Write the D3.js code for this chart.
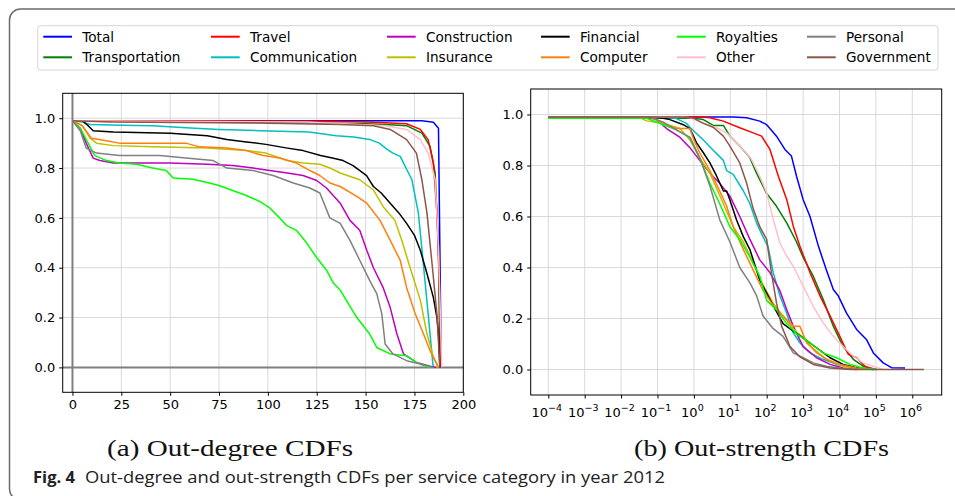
<!doctype html>
<html lang="en">

<head>
  <meta charset="utf-8">
  <title>Out-degree and out-strength CDFs</title>
  <style>
    * { margin: 0; padding: 0; box-sizing: border-box; }
    body { background: #fff; }
    #container { width: 955px; height: 496px; }
    text { font-family: "DejaVu Sans", sans-serif; }
  </style>
</head>

<body>
  <div id="container">
  </div>
  <script src="https://cdn.jsdelivr.net/npm/d3@7/dist/d3.min.js"></script>
  <script>
    // plotting order (matplotlib legend fills column by column, ncol=6)
    const categories = ['Total', 'Transportation', 'Travel', 'Communication', 'Construction', 'Insurance',
      'Financial', 'Computer', 'Royalties', 'Other', 'Personal', 'Government'];
    const colors = ['#0000ff', '#008000', '#ff0000', '#00bfbf', '#bf00bf', '#bfbf00',
      '#000000', '#ff7f0e', '#00ff00', '#ffc0cb', '#808080', '#8c564b'];

    // (a) out-degree, [degree, P]
    const outDegree = [
      [[0,0.99],[100,0.99],[178.8,0.99],[184.7,0.984],[187.3,0.96],[188.7,0]],
      [[0,0.99],[60,0.985],[120,0.982],[150,0.978],[160,0.975],[171,0.97],[178.8,0.94],[183,0.887],[185.6,0.78],[187.3,0.48],[188,0]],
      [[0,0.99],[130,0.988],[150,0.985],[160,0.982],[171,0.978],[178,0.955],[182,0.914],[184.7,0.82],[186.5,0.62],[187.7,0.35],[188.5,0]],
      [[0,0.99],[5,0.985],[9,0.975],[25,0.972],[41,0.97],[58,0.962],[75,0.955],[96,0.95],[121,0.945],[135,0.93],[144,0.925],[152,0.915],[157,0.9],[161,0.875],[164,0.86],[167.7,0.847],[173.7,0.753],[177,0.62],[179.5,0.42],[182,0.216],[184.6,0]],
      [[0,0.99],[4,0.96],[7,0.9],[10.6,0.84],[14,0.83],[21,0.82],[50,0.82],[69,0.815],[82,0.81],[92.5,0.8],[101,0.79],[110,0.78],[118,0.77],[125,0.75],[130,0.72],[137,0.659],[142,0.59],[147,0.55],[150.6,0.47],[154,0.4],[159,0.32],[162.6,0.24],[166,0.135],[169.4,0.054],[176,0.02],[183,0.005],[186,0]],
      [[0,0.99],[5,0.97],[9,0.92],[12.3,0.9],[21,0.89],[41,0.885],[69,0.88],[89,0.87],[99,0.86],[110,0.83],[118,0.82],[126.6,0.815],[131.7,0.8],[137,0.78],[147,0.753],[154,0.712],[159,0.645],[165,0.59],[168.5,0.51],[172.8,0.4],[178,0.27],[181.4,0.135],[184.7,0.04],[187.3,0]],
      [[0,0.99],[5,0.99],[8,0.97],[10.6,0.95],[21,0.945],[50,0.94],[69,0.93],[79,0.915],[89,0.905],[99,0.895],[110,0.88],[118,0.87],[127,0.85],[133,0.84],[138.5,0.83],[143.6,0.81],[150.5,0.77],[154,0.726],[158,0.7],[162.6,0.659],[167,0.62],[171,0.578],[175,0.53],[178,0.47],[181.4,0.377],[184.7,0.28],[186.5,0.2],[187.3,0.135],[188,0]],
      [[0,0.99],[5,0.97],[9.7,0.92],[17.4,0.91],[24,0.9],[58,0.9],[65,0.885],[79,0.88],[89,0.87],[97.6,0.85],[106,0.84],[114.6,0.82],[121.5,0.79],[126.6,0.77],[131.7,0.74],[137,0.726],[145.5,0.686],[150.6,0.659],[157.4,0.59],[162.6,0.51],[167.7,0.43],[171,0.32],[175.4,0.215],[179.6,0.135],[183,0.067],[187.3,0]],
      [[0,0.99],[4,0.96],[8,0.9],[11.4,0.85],[17.4,0.83],[24,0.82],[32.7,0.815],[41,0.8],[48,0.79],[51.5,0.76],[61.7,0.755],[70,0.74],[75,0.73],[82,0.71],[89,0.69],[96,0.665],[101,0.64],[106,0.6],[109.5,0.57],[114.6,0.55],[119.8,0.5],[125,0.44],[130,0.39],[133.4,0.34],[137,0.31],[145.5,0.2],[152,0.135],[155.7,0.08],[162.6,0.054],[171,0.047],[176,0.02],[179.6,0.007],[183,0]],
      [[0,0.99],[120,0.985],[160,0.97],[171,0.955],[178,0.914],[182,0.86],[185.6,0.753],[187.3,0.48],[189,0]],
      [[0,0.99],[4,0.95],[7,0.88],[12.3,0.86],[24,0.85],[44.7,0.85],[58,0.84],[72,0.83],[79,0.8],[92.5,0.79],[102.7,0.77],[113,0.74],[121.5,0.72],[126.6,0.7],[131.7,0.6],[137,0.578],[142,0.51],[147,0.43],[152,0.35],[155.7,0.296],[158.3,0.215],[160,0.094],[164,0.054],[171,0.027],[181.4,0.007],[185,0]],
      [[0,0.99],[20,0.985],[100,0.98],[137,0.975],[154,0.97],[162.6,0.955],[171,0.914],[176,0.86],[178.8,0.753],[181.4,0.62],[184,0.417],[186.5,0.215],[188,0]]
    ];

    // (b) out-strength, [log10(strength), P]
    const outStrength = [
      [[-4,0.99],[1.08,0.99],[1.45,0.987],[1.81,0.974],[2.0,0.96],[2.27,0.915],[2.5,0.863],[2.68,0.837],[2.82,0.758],[3.0,0.667],[3.19,0.6],[3.42,0.484],[3.64,0.39],[3.83,0.314],[3.97,0.288],[4.19,0.222],[4.47,0.157],[4.74,0.118],[4.93,0.065],[5.2,0.026],[5.43,0.007],[5.8,0.006]],
      [[-4,0.985],[0,0.985],[0.26,0.98],[0.53,0.957],[0.81,0.957],[0.99,0.915],[1.26,0.876],[1.54,0.83],[1.72,0.77],[2.0,0.69],[2.27,0.64],[2.55,0.575],[2.82,0.5],[3.0,0.44],[3.28,0.366],[3.55,0.275],[3.83,0.17],[4.1,0.09],[4.38,0.04],[4.65,0.013],[5.02,0]],
      [[-4,0.99],[0.2,0.99],[0.44,0.987],[0.81,0.974],[1.26,0.948],[1.63,0.928],[1.86,0.915],[2.09,0.863],[2.32,0.758],[2.55,0.667],[2.73,0.562],[2.91,0.484],[3.19,0.38],[3.46,0.29],[3.74,0.21],[4.01,0.13],[4.24,0.06],[4.47,0.046],[4.7,0.013],[4.93,0]],
      [[-4,0.99],[-1,0.99],[-0.5,0.985],[-0.2,0.965],[-0.11,0.95],[0.26,0.9],[0.53,0.86],[0.81,0.82],[0.9,0.78],[1.08,0.765],[1.36,0.7],[1.54,0.65],[1.72,0.575],[1.9,0.52],[2.04,0.48],[2.18,0.38],[2.36,0.29],[2.55,0.22],[2.73,0.144],[2.91,0.105],[3.19,0.065],[3.55,0.04],[3.92,0.02],[4.47,0.006],[5.02,0]],
      [[-4,0.99],[-1.3,0.99],[-1.03,0.98],[-0.75,0.945],[-0.38,0.91],[-0.11,0.87],[0.16,0.82],[0.44,0.77],[0.71,0.73],[0.99,0.68],[1.26,0.6],[1.54,0.51],[1.81,0.43],[2.09,0.38],[2.36,0.31],[2.55,0.235],[2.73,0.17],[3.0,0.09],[3.37,0.046],[3.74,0.02],[4.1,0.006],[4.47,0]],
      [[-4,0.985],[-1.45,0.985],[-1.3,0.975],[-0.84,0.965],[-0.38,0.945],[-0.11,0.9],[0.16,0.83],[0.44,0.77],[0.81,0.65],[1.08,0.56],[1.36,0.5],[1.63,0.42],[1.9,0.33],[2.18,0.26],[2.45,0.21],[2.73,0.16],[3.0,0.124],[3.37,0.065],[3.74,0.033],[4.1,0.013],[4.65,0]],
      [[-4,0.99],[-1.03,0.99],[-0.66,0.98],[-0.29,0.96],[-0.11,0.945],[0.07,0.89],[0.26,0.85],[0.44,0.81],[0.62,0.76],[0.81,0.7],[0.9,0.7],[0.99,0.665],[1.17,0.587],[1.36,0.52],[1.54,0.47],[1.72,0.39],[1.81,0.35],[2.0,0.3],[2.18,0.25],[2.45,0.18],[2.73,0.15],[3.0,0.124],[3.37,0.085],[3.74,0.046],[4.1,0.02],[4.47,0.007],[4.93,0]],
      [[-4,0.99],[-1.21,0.99],[-0.84,0.965],[-0.48,0.945],[-0.11,0.945],[0,0.9],[0.16,0.85],[0.44,0.78],[0.71,0.7],[0.9,0.64],[1.08,0.56],[1.36,0.47],[1.63,0.39],[1.9,0.31],[2.18,0.25],[2.45,0.21],[2.73,0.17],[2.91,0.17],[3.1,0.104],[3.37,0.07],[3.64,0.04],[4.01,0.02],[4.47,0.006],[4.93,0]],
      [[-4,0.985],[-1.3,0.985],[-0.84,0.96],[-0.48,0.94],[-0.11,0.91],[0.16,0.83],[0.44,0.73],[0.71,0.65],[0.99,0.56],[1.26,0.51],[1.54,0.44],[1.81,0.365],[2.0,0.27],[2.27,0.235],[2.55,0.18],[2.82,0.14],[3.19,0.104],[3.55,0.065],[3.92,0.046],[4.29,0.02],[4.65,0.006],[5.02,0]],
      [[-4,0.99],[-0.3,0.99],[-0.11,0.987],[0.26,0.967],[0.62,0.948],[0.9,0.928],[1.26,0.876],[1.58,0.824],[1.81,0.758],[2.0,0.693],[2.18,0.588],[2.36,0.497],[2.55,0.444],[2.73,0.405],[3.0,0.327],[3.28,0.248],[3.55,0.183],[3.83,0.13],[4.1,0.09],[4.38,0.052],[4.65,0.026],[4.93,0.013],[5.2,0]],
      [[-4,0.99],[-1.21,0.99],[-0.84,0.97],[-0.48,0.94],[-0.11,0.91],[0.16,0.83],[0.44,0.72],[0.71,0.587],[0.99,0.5],[1.26,0.4],[1.54,0.34],[1.72,0.29],[1.9,0.21],[2.18,0.16],[2.45,0.13],[2.73,0.065],[3.0,0.046],[3.28,0.026],[3.64,0.013],[4.1,0.004],[4.47,0]],
      [[-4,0.99],[-0.3,0.99],[0,0.985],[0.26,0.965],[0.53,0.95],[0.81,0.915],[0.99,0.876],[1.26,0.81],[1.45,0.73],[1.63,0.63],[1.81,0.56],[2.0,0.51],[2.13,0.38],[2.27,0.26],[2.41,0.17],[2.64,0.09],[2.91,0.05],[3.28,0.02],[3.74,0.006],[4.3,0],[6.32,0]]
    ];

    const degTicks = [0, 25, 50, 75, 100, 125, 150, 175, 200];
    const probTicks = [0, 0.2, 0.4, 0.6, 0.8, 1.0];
    const strengthExps = [-4, -3, -2, -1, 0, 1, 2, 3, 4, 5, 6];
    const captionA = '(a) Out-degree CDFs';
    const captionB = '(b) Out-strength CDFs';
    const figLabel = 'Fig. 4';
    const figText = 'Out-degree and out-strength CDFs per service category in year 2012';

    const W = 955, H = 496;
    const svg = d3.select('#container').append('svg')
      .attr('width', W).attr('height', H);

    // outer frame
    svg.append('rect')
      .attr('x', 9.5).attr('y', 9).attr('width', 980).attr('height', 491)
      .attr('rx', 11).attr('fill', 'none')
      .attr('stroke', '#6b6b6b').attr('stroke-width', 1.5);

    const panels = [
      { x: [62.7, 463.3], y: [392.3, 93.3], data: outDegree,
        sx: d3.scaleLinear().domain([-5, 200]), conv: d => d },
      { x: [530.7, 941.7], y: [395, 89], data: outStrength,
        sx: d3.scaleLog().domain([Math.pow(10, -4.4835), Math.pow(10, 6.808)]), conv: d => Math.pow(10, d) }
    ];

    panels.forEach((p, pi) => {
      const x = p.sx.range(p.x);
      const y = d3.scaleLinear().domain([-0.1, 1.1]).range(p.y);
      const g = svg.append('g');
      const xt = pi === 0 ? degTicks : strengthExps.map(e => Math.pow(10, e));

      // grid
      g.append('g').selectAll('line.v').data(xt).enter().append('line')
        .attr('x1', d => x(d)).attr('x2', d => x(d))
        .attr('y1', p.y[0]).attr('y2', p.y[1])
        .attr('stroke', '#d9d9d9').attr('stroke-width', 1);
      g.append('g').selectAll('line.h').data(probTicks).enter().append('line')
        .attr('x1', p.x[0]).attr('x2', p.x[1])
        .attr('y1', d => y(d)).attr('y2', d => y(d))
        .attr('stroke', '#d9d9d9').attr('stroke-width', 1);

      if (pi === 0) {
        g.append('line').attr('x1', p.x[0]).attr('x2', p.x[1])
          .attr('y1', y(0)).attr('y2', y(0))
          .attr('stroke', '#808080').attr('stroke-width', 2);
        g.append('line').attr('x1', x(0)).attr('x2', x(0))
          .attr('y1', p.y[0]).attr('y2', p.y[1])
          .attr('stroke', '#808080').attr('stroke-width', 2);
      }

      const line = d3.line().x(d => x(p.conv(d[0]))).y(d => y(d[1]));
      g.append('g').selectAll('path').data(p.data).enter().append('path')
        .attr('d', line)
        .attr('fill', 'none')
        .attr('stroke', (d, i) => colors[i])
        .attr('stroke-width', 1.5)
        .attr('stroke-linejoin', 'round');

      // axes
      const ax = d3.axisBottom(x).tickValues(xt).tickSize(3.5).tickPadding(4);
      if (pi === 0) ax.tickFormat(d3.format('d'));
      else ax.tickFormat('');
      const gx = g.append('g').attr('transform', `translate(0,${p.y[0]})`).call(ax);
      const ay = d3.axisLeft(y).tickValues(probTicks).tickSize(3.5).tickPadding(4).tickFormat(d3.format('.1f'));
      const gy = g.append('g').attr('transform', `translate(${p.x[0]},0)`).call(ay);
      [gx, gy].forEach(a => {
        a.select('.domain').remove();
        a.selectAll('.tick line').attr('stroke', '#000').attr('stroke-width', 1);
        a.selectAll('.tick text').attr('fill', '#000').attr('font-size', 13)
          .attr('font-family', '"DejaVu Sans", sans-serif');
      });
      if (pi === 1) {
        gx.selectAll('.tick text').each(function (d) {
          const t = d3.select(this).text('');
          const e = Math.round(Math.log10(d));
          t.attr('dy', null).attr('y', 21.5).attr('dx', -2);
          t.append('tspan').text('10');
          t.append('tspan').attr('dy', -6).attr('font-size', 9.5)
            .text(e < 0 ? '\u2212' + (-e) : String(e));
        });
      }

      g.append('rect')
        .attr('x', p.x[0]).attr('y', p.y[1])
        .attr('width', p.x[1] - p.x[0]).attr('height', p.y[0] - p.y[1])
        .attr('fill', 'none').attr('stroke', '#000').attr('stroke-width', 1);
    });

    // legend
    const lg = svg.append('g');
    lg.append('rect')
      .attr('x', 37.7).attr('y', 25.7).attr('width', 900.3).attr('height', 44.3)
      .attr('rx', 3).attr('fill', '#fff').attr('stroke', '#d5d5d5').attr('stroke-width', 1);
    const colX = [43.3, 211, 387, 541, 677, 807];
    const rowY = [36.7, 57.3];
    categories.forEach((c, i) => {
      const cx = colX[Math.floor(i / 2)], cy = rowY[i % 2];
      lg.append('line').attr('x1', cx).attr('x2', cx + 28.7)
        .attr('y1', cy).attr('y2', cy)
        .attr('stroke', colors[i]).attr('stroke-width', 2);
      lg.append('text').attr('x', cx + 39).attr('y', cy)
        .attr('dy', '0.36em').attr('font-size', 13.6).attr('fill', '#000')
        .text(c);
    });

    // sub captions
    svg.append('text').attr('x', 107).attr('y', 456)
      .attr('textLength', 246).attr('lengthAdjust', 'spacingAndGlyphs')
      .style('font-family', '"Liberation Serif", serif').attr('font-size', 24)
      .attr('fill', '#111').text(captionA);
    svg.append('text').attr('x', 634).attr('y', 456)
      .attr('textLength', 255).attr('lengthAdjust', 'spacingAndGlyphs')
      .style('font-family', '"Liberation Serif", serif').attr('font-size', 24)
      .attr('fill', '#111').text(captionB);

    // figure caption
    svg.append('text').attr('x', 33).attr('y', 483)
      .attr('textLength', 42).attr('lengthAdjust', 'spacingAndGlyphs')
      .style('font-family', '"Open Sans", sans-serif').attr('font-weight', 'bold')
      .attr('font-size', 16).attr('fill', '#222').text(figLabel);
    svg.append('text').attr('x', 85).attr('y', 483)
      .attr('textLength', 580).attr('lengthAdjust', 'spacingAndGlyphs')
      .style('font-family', '"Open Sans", sans-serif')
      .attr('font-size', 16).attr('fill', '#222').text(figText);
  </script>
</body>

</html>
